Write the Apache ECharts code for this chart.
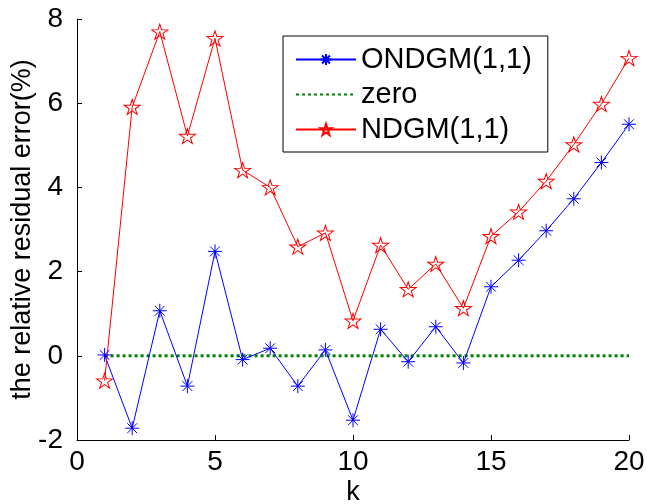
<!DOCTYPE html>
<html>
<head>
  <meta charset="UTF-8">
  <title>relative residual error</title>
  <style>
    html, body { margin: 0; padding: 0; background: #fff; }
    #chart { width: 647px; height: 504px; }
  </style>
</head>
<body>
  <div id="chart"></div>
  <script src="https://cdn.jsdelivr.net/npm/echarts@6/dist/echarts.min.js"></script>
  <script>
    const k = [1, 2, 3, 4, 5, 6, 7, 8, 9, 10, 11, 12, 13, 14, 15, 16, 17, 18, 19, 20];
    const ondgm = [0.02, -1.72, 1.07, -0.72, 2.48, -0.09, 0.18, -0.72, 0.14, -1.53,
                   0.63, -0.14, 0.69, -0.17, 1.64, 2.27, 2.97, 3.73, 4.59, 5.50];
    const ndgm = [-0.59, 5.91, 7.70, 5.22, 7.54, 4.41, 4.00, 2.59, 2.92, 0.83,
                  2.63, 1.58, 2.18, 1.13, 2.84, 3.42, 4.15, 5.02, 5.98, 7.07];
    const zeroX = [1, 20];
    const zeroY = [0, 0];

    const pairs = (xs, ys) => xs.map((x, i) => [x, ys[i]]);

    // matlab style markers
    const asterisk = 'path://M0,-1L0,1M-1,0L1,0M-0.7,-0.7L0.7,0.7M-0.7,0.7L0.7,-0.7';
    const star = 'path://M0,-1L0.2245,-0.309L0.951,-0.309L0.363,0.118L0.588,0.809L0,0.382' +
                 'L-0.588,0.809L-0.363,0.118L-0.951,-0.309L-0.2245,-0.309Z';

    const font = 'Liberation Sans';
    const chart = echarts.init(document.getElementById('chart'));

    chart.setOption({
      animation: false,
      backgroundColor: '#fff',
      grid: { left: 77, right: 18, top: 19, bottom: 64, outerBoundsMode: 'none' },
      xAxis: {
        type: 'value',
        min: 0, max: 20, interval: 5,
        name: 'k',
        nameLocation: 'middle',
        nameGap: 39,
        nameMoveOverlap: false,
        nameTextStyle: { fontFamily: font, fontSize: 27, color: '#000' },
        axisLine: { onZero: false, lineStyle: { color: '#000' } },
        axisTick: { inside: true, length: 5, lineStyle: { color: '#000' } },
        axisLabel: { fontFamily: font, fontSize: 28, color: '#000', margin: 8 },
        splitLine: { show: false }
      },
      yAxis: {
        type: 'value',
        min: -2, max: 8, interval: 2,
        name: 'the relative residual error(%)',
        nameLocation: 'middle',
        nameGap: 41,
        nameMoveOverlap: false,
        nameTextStyle: { fontFamily: font, fontSize: 27, color: '#000' },
        axisLine: { show: true, onZero: false, lineStyle: { color: '#000' } },
        axisTick: { show: true, inside: true, length: 5, lineStyle: { color: '#000' } },
        axisLabel: { fontFamily: font, fontSize: 28, color: '#000', margin: 14 },
        splitLine: { show: false }
      },
      legend: {
        orient: 'vertical',
        left: 283,
        top: 36,
        padding: [9, 16, 8, 12],
        itemGap: 6,
        itemWidth: 60,
        itemHeight: 14,
        borderColor: '#000',
        borderWidth: 1,
        backgroundColor: '#fff',
        textStyle: { fontFamily: font, fontSize: 29, color: '#000' },
        data: ['ONDGM(1,1)', 'zero', 'NDGM(1,1)']
      },
      series: [
        {
          name: 'ONDGM(1,1)',
          type: 'line',
          data: pairs(k, ondgm),
          symbol: asterisk,
          symbolSize: 14,
          showAllSymbol: true,
          lineStyle: { color: '#0000ff', width: 1 },
          itemStyle: { color: 'rgba(0,0,0,0)', borderColor: '#0000ff', borderWidth: 1 },
          z: 3
        },
        {
          name: 'zero',
          type: 'line',
          data: pairs(zeroX, zeroY),
          symbol: 'circle',
          showSymbol: false,
          lineStyle: { color: '#008000', width: 3, type: [3, 3] },
          itemStyle: { color: 'rgba(0,0,0,0)' },
          z: 2
        },
        {
          name: 'NDGM(1,1)',
          type: 'line',
          data: pairs(k, ndgm),
          symbol: star,
          symbolSize: [16, 15],
          showAllSymbol: true,
          lineStyle: { color: '#ff0000', width: 1 },
          itemStyle: { color: 'rgba(0,0,0,0)', borderColor: '#ff0000', borderWidth: 1 },
          z: 3
        }
      ]
    });
  </script>
</body>
</html>
